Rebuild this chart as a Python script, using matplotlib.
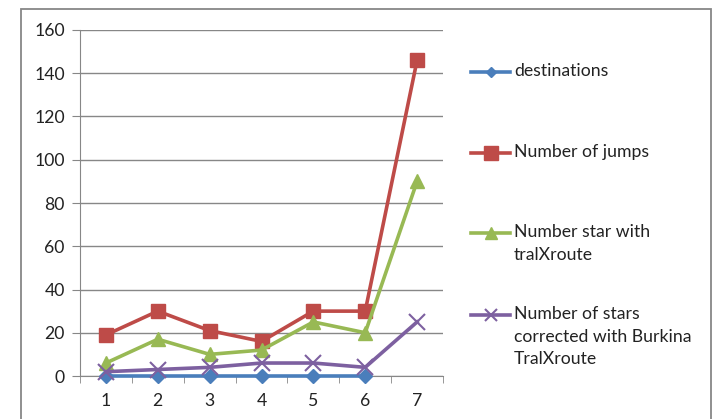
import numpy as np
import matplotlib.pyplot as plt
from matplotlib.lines import Line2D
from matplotlib.patches import Rectangle

plt.rcParams['font.family'] = ['Lato', 'DejaVu Sans']

categories = [1, 2, 3, 4, 5, 6, 7]
destinations = [0, 0, 0, 0, 0, 0, np.nan]
jumps = [19, 30, 21, 16, 30, 30, 146]
star_tralx = [6, 17, 10, 12, 25, 20, 90]
star_burkina = [2, 3, 4, 6, 6, 4, 25]
labels = ["destinations", "Number of jumps", "Number star with\ntralXroute",
          "Number of stars\ncorrected with Burkina\nTralXroute"]

W, H = 715, 419
fig = plt.figure(figsize=(W / 100, H / 100), dpi=100)
fig.patch.set_facecolor('white')

# chart border (Excel style)
fig.add_artist(Rectangle((21 / W, -0.05), (711 - 21) / W, (H - 9) / H + 0.05,
                         transform=fig.transFigure, fill=False,
                         edgecolor='#878787', lw=1.3))

ax = fig.add_axes([80 / W, 43 / H, (443 - 80) / W, 346 / H])

styles = [
    dict(color='#4a7ebb', marker='D', ms=7),
    dict(color='#be4b48', marker='s', ms=10),
    dict(color='#98b954', marker='^', ms=10),
    dict(color='#7d60a0', marker='x', ms=11, mew=1.5),
]
series = [destinations, jumps, star_tralx, star_burkina]
x = np.arange(len(categories))
for vals, st in zip(series, styles):
    ax.plot(x, vals, lw=2.6, zorder=3, clip_on=False, **st)

ax.set_xlim(-0.5, len(categories) - 0.5)
ax.set_ylim(0, 160)
ax.set_yticks(range(0, 161, 20))
ax.set_xticks(x)
ax.set_xticklabels([str(c) for c in categories])
ax.set_xticks(np.arange(-0.5, len(categories)), minor=True)
ax.tick_params(axis='x', which='major', length=0, pad=12, labelsize=12.7,
               labelcolor='#222222')
ax.tick_params(axis='x', which='minor', length=5, color='#878787')
ax.tick_params(axis='y', length=6, color='#878787', labelsize=12.7, pad=5,
               labelcolor='#222222')
ax.yaxis.grid(True, color='#878787', lw=1)
ax.set_axisbelow(True)
for s in ['top', 'right']:
    ax.spines[s].set_visible(False)
for s in ['left', 'bottom']:
    ax.spines[s].set_color('#878787')

# legend drawn manually to mimic Excel spacing
leg_y = [72, 153, 233, 315]
for lab, st, yy in zip(labels, styles, leg_y):
    yf = 1 - yy / H
    fig.add_artist(Line2D([471 / W, 510 / W], [yf, yf], lw=2.6,
                          color=st['color'], transform=fig.transFigure))
    fig.add_artist(Line2D([490.5 / W], [yf], marker=st['marker'],
                          ms=st['ms'] * (0.8 if st['marker'] != 's' else 1.0),
                          color=st['color'], mew=st.get('mew', 1),
                          transform=fig.transFigure))
    fig.text(514 / W, yf + 9 / H, lab, ha='left', va='top', fontsize=12.7,
             linespacing=1.5, color='#222222')

fig.savefig('out.png', dpi=100)
